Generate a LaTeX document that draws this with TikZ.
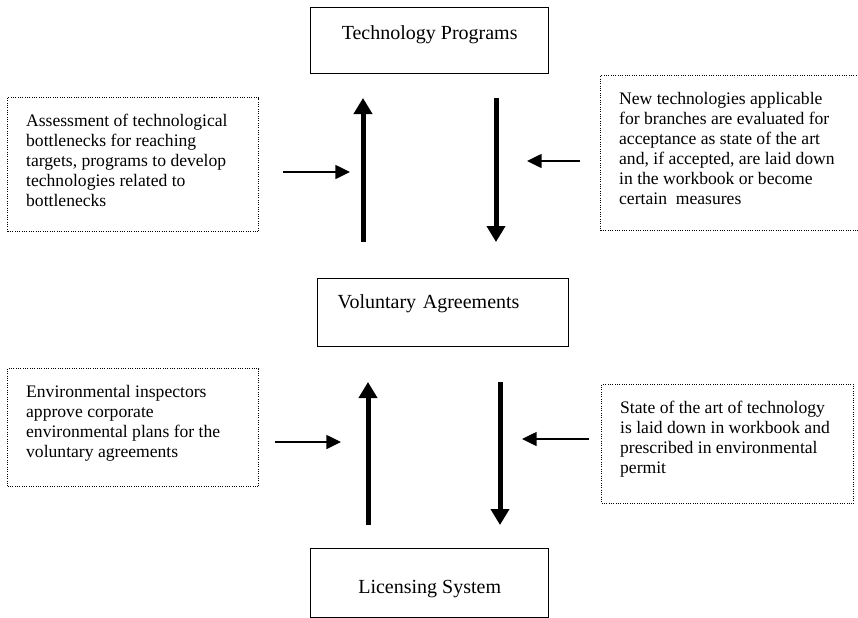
\documentclass[tikz,border=0pt]{standalone}
\usepackage{fontspec}
\setmainfont{Liberation Serif}
\usetikzlibrary{arrows.meta}

\tikzset{
	mainbox/.style={draw, line width=1pt, inner sep=0pt, minimum width=178.5pt, anchor=north west, font=\fontsize{15pt}{18pt}\selectfont},
	notebox/.style={draw, densely dotted, line width=0.75pt, anchor=north west, inner xsep=14pt, inner ysep=12.5pt, font=\fontsize{13.2pt}{15pt}\selectfont},
	bigflow/.style={line width=3.75pt, -{Triangle[width=13.5pt,length=12pt]}},
	smallflow/.style={line width=1.1pt, -{Triangle[width=10.5pt,length=11pt]}}
}
% text of a dotted box: width, height, lines
\newcommand{\notetext}[3]{\parbox[t][#2][t]{#1}{\raggedright #3}}

\begin{document}
\begin{tikzpicture}[x=0.75pt, y=-0.75pt]
	\useasboundingbox (0,0) rectangle (858,618);
	
	% the three main boxes
	\node[mainbox, text height=24pt, text depth=25.5pt] (tech) at (310,7) {Technology Programs};
	\node[mainbox, text width=158.25pt, align=left, inner xsep=15pt, text height=22.5pt, text depth=28.5pt] (vol) at (317,278) {Voluntary Agreements};
	\node[mainbox, text height=33.75pt, text depth=18pt] (lic) at (310,548) {Licensing System};
	
	% dotted notes
	\node[notebox] (assess) at (7,97) {\notetext{160.5pt}{75.5pt}{Assessment of technological\\ bottlenecks for reaching\\ targets, programs to develop\\ technologies related to\\ bottlenecks}};
	\node[notebox] (newtech) at (600,75) {\notetext{240pt}{91.25pt}{New technologies applicable\\ for branches are evaluated for\\ acceptance as state of the art\\ and, if accepted, are laid down\\ in the workbook or become\\ certain~ measures}};
	\node[notebox] (inspect) at (7,368) {\notetext{160.5pt}{63.5pt}{Environmental inspectors\\ approve corporate\\ environmental plans for the\\ voluntary agreements}};
	\node[notebox] (permit) at (601,384) {\notetext{161pt}{64.25pt}{State of the art of technology\\ is laid down in workbook and\\ prescribed in environmental\\ permit}};
	
	% arrow ends
	\coordinate (techup0) at (363,242);
	\coordinate (techup1) at (363,98);
	\coordinate (techdn0) at (496,98);
	\coordinate (techdn1) at (496,242);
	\coordinate (licup0) at (368,525);
	\coordinate (licup1) at (368,382);
	\coordinate (licdn0) at (500,382);
	\coordinate (licdn1) at (500,525);
	
	\coordinate (assess0) at (283,172);
	\coordinate (assess1) at (350,172);
	\coordinate (newtech0) at (580,161);
	\coordinate (newtech1) at (527,161);
	\coordinate (inspect0) at (275,442);
	\coordinate (inspect1) at (341,442);
	\coordinate (permit0) at (589,439);
	\coordinate (permit1) at (522,439);
	
	\draw[bigflow] (techup0) -- (techup1);
	\draw[bigflow] (techdn0) -- (techdn1);
	\draw[bigflow] (licup0) -- (licup1);
	\draw[bigflow] (licdn0) -- (licdn1);
	
	\draw[smallflow] (assess0) -- (assess1);
	\draw[smallflow] (newtech0) -- (newtech1);
	\draw[smallflow] (inspect0) -- (inspect1);
	\draw[smallflow] (permit0) -- (permit1);
\end{tikzpicture}
\end{document}
